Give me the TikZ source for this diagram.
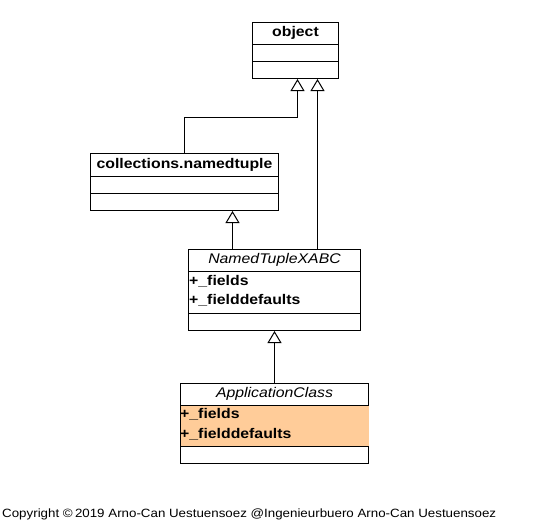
\documentclass[tikz,border=0pt]{standalone}
\usepackage{fontspec}
\setmainfont{Liberation Sans}
\newfontfamily\umlfont[FakeStretch=1.13]{Liberation Sans}
\usetikzlibrary{arrows.meta}
\definecolor{attrorange}{HTML}{FFCC99}
\begin{document}
\begin{tikzpicture}[x=1pt,y=-1pt,
  classbox/.style={draw=black, line width=1pt, fill=white, rectangle, inner sep=0pt, anchor=north west},
  titletext/.style={font=\umlfont\fontsize{14pt}{16pt}\selectfont\bfseries, inner sep=0pt},
  abstracttext/.style={font=\umlfont\fontsize{14pt}{16pt}\selectfont\itshape, inner sep=0pt},
  attrtext/.style={font=\umlfont\fontsize{14pt}{16pt}\selectfont\bfseries, inner sep=0pt, anchor=west},
  sepline/.style={draw=black, line width=1pt},
  inh/.style={draw=black, line width=1pt, -{Triangle[open, width=14pt, length=12pt, fill=white]}},
  copytext/.style={font=\fontsize{12pt}{14pt}\selectfont, inner sep=0pt, anchor=west}
]
\useasboundingbox (0,0) rectangle (549,522);
\fill[white] (0,0) rectangle (549,522);

% object
\node[classbox, minimum width=86pt, minimum height=56pt] (obj) at (252,22) {};
\draw[sepline] ([yshift=-22pt]obj.north west) -- ([yshift=-22pt]obj.north east);
\draw[sepline] ([yshift=-39pt]obj.north west) -- ([yshift=-39pt]obj.north east);
\node[titletext] (objt) at ([yshift=-11pt]obj.north) {object};

% collections.namedtuple
\node[classbox, minimum width=188pt, minimum height=57pt] (coll) at (90,153) {};
\draw[sepline] ([yshift=-23pt]coll.north west) -- ([yshift=-23pt]coll.north east);
\draw[sepline] ([yshift=-40pt]coll.north west) -- ([yshift=-40pt]coll.north east);
\node[titletext] (collt) at ([yshift=-11.5pt]coll.north) {collections.namedtuple};

% NamedTupleXABC
\node[classbox, minimum width=172pt, minimum height=81pt] (ntx) at (188,249) {};
\draw[sepline] ([yshift=-22pt]ntx.north west) -- ([yshift=-22pt]ntx.north east);
\draw[sepline] ([yshift=-64pt]ntx.north west) -- ([yshift=-64pt]ntx.north east);
\node[abstracttext] (ntxt) at ([yshift=-11pt]ntx.north) {NamedTupleXABC};
\node[attrtext] (ntxa1) at ([xshift=1pt,yshift=-32pt]ntx.north west) {+\_fields};
\node[attrtext] (ntxa2) at ([xshift=1pt,yshift=-51pt]ntx.north west) {+\_fielddefaults};

% ApplicationClass
\node[classbox, minimum width=188pt, minimum height=80pt] (app) at (180,383) {};
\fill[attrorange] ([xshift=0.5pt,yshift=-22pt]app.north west) rectangle ([xshift=-0.5pt,yshift=-63pt]app.north east);
\draw[sepline] ([yshift=-22pt]app.north west) -- ([yshift=-22pt]app.north east);
\draw[sepline] ([yshift=-63pt]app.north west) -- ([yshift=-63pt]app.north east);
\node[abstracttext] (appt) at ([yshift=-11pt]app.north) {ApplicationClass};
\node[attrtext] (appa1) at ([xshift=0pt,yshift=-31.5pt]app.north west) {+\_fields};
\node[attrtext] (appa2) at ([xshift=0pt,yshift=-51pt]app.north west) {+\_fielddefaults};

% connectors
\coordinate (objin1) at ([xshift=2pt]obj.south);
\coordinate (objin2) at ([xshift=22pt]obj.south);
\coordinate (bend) at ([yshift=-38pt]objin1);
\draw[inh] (coll.north) |- (bend) -- (objin1);
\coordinate (ntxout1) at ([xshift=-42pt]ntx.north);
\coordinate (ntxout2) at ([xshift=43pt]ntx.north);
\coordinate (collin) at ([xshift=47pt]coll.south);
\draw[inh] (ntxout1) -- (ntxout1 |- collin);
\draw[inh] (ntxout2) -- (ntxout2 |- objin2);
\draw[inh] (app.north) -- (ntx.south);

% copyright
\node[copytext] (copy) at (2,514) {\resizebox{494pt}{\height}{Copyright \textcopyright\,2019 Arno-Can Uestuensoez @Ingenieurbuero Arno-Can Uestuensoez}};
\end{tikzpicture}
\end{document}
